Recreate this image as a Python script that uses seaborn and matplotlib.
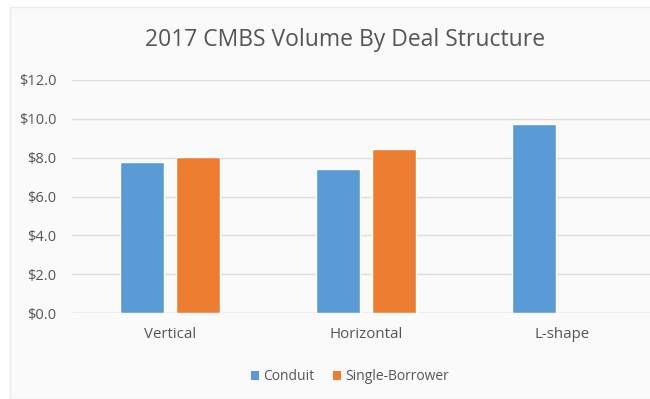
import matplotlib
matplotlib.use("Agg")
import matplotlib.pyplot as plt
from matplotlib.patches import Rectangle
import seaborn as sns
import pandas as pd
import numpy as np

# CMBS volume ($ billions) by deal structure, 2017
structures = ["Vertical", "Horizontal", "L-shape"]
conduit = [7.78, 7.44, 9.75]
single_borrower = [8.04, 8.47, np.nan]
series_names = ["Conduit", "Single-Borrower"]
y_ticks = [0, 2, 4, 6, 8, 10, 12]
title = "2017 CMBS Volume By Deal Structure"

df = pd.DataFrame({
    "Structure": structures * 2,
    "Series": [series_names[0]] * 3 + [series_names[1]] * 3,
    "Volume": conduit + single_borrower,
})

sns.set_theme(style="white")
plt.rcParams["font.family"] = ["Open Sans", "DejaVu Sans"]

W, H = 650, 399
fig = plt.figure(figsize=(W / 100, H / 100), dpi=100)
fig.patch.set_facecolor("white")

# chart area panel
fig.patches.append(Rectangle((10 / W, 0), 1.2, (H - 7) / H, transform=fig.transFigure,
                             facecolor="#fafafa", edgecolor="#ebebeb", linewidth=1.0,
                             zorder=-10))

ax = fig.add_axes([72 / W, (H - 313) / H, 588 / W, 233 / H])
ax.set_facecolor("none")

palette = {"Conduit": "#5b9bd5", "Single-Borrower": "#ed7d31"}
sns.barplot(data=df, x="Structure", y="Volume", hue="Series", order=structures,
            hue_order=series_names, palette=palette, width=0.568, gap=0.21,
            saturation=1, ax=ax, legend=False, zorder=3)

text_color = "#555555"
ax.set_ylim(0, 12)
ax.set_xlim(-0.5, 2.5)
ax.set_yticks(y_ticks)
ax.set_yticklabels([f"${v:.1f}" for v in y_ticks])
ax.yaxis.grid(True, color="#dedbd9", linewidth=1.0, zorder=0)
ax.set_axisbelow(True)
for s in ax.spines.values():
    s.set_visible(False)
ax.axhline(0, color="#d9d6d4", linewidth=1.0, zorder=2)
ax.tick_params(axis="y", length=0, pad=11, labelsize=10.5, labelcolor=text_color)
ax.tick_params(axis="x", length=0, pad=10, labelsize=10.8, labelcolor=text_color)
ax.set_xlabel("")
ax.set_ylabel("")

fig.text(345 / W, 1 - 40 / H, title, ha="center", va="center",
         fontsize=16.5, color=text_color)

handles = [Rectangle((0, 0), 1, 1, facecolor=palette[n], edgecolor="none") for n in series_names]
fig.legend(handles, series_names, loc="center", bbox_to_anchor=(350 / W, 1 - 377 / H),
           ncol=2, frameon=False, fontsize=10, labelcolor=text_color,
           handlelength=0.6, handleheight=0.6, handletextpad=0.3, columnspacing=1.3)

fig.savefig("out.png", dpi=100)
